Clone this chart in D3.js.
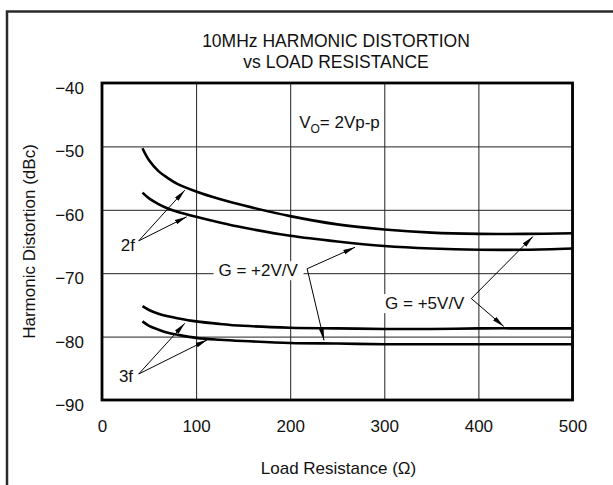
<!DOCTYPE html>
<html>
<head>
<meta charset="utf-8">
<script src="https://cdnjs.cloudflare.com/ajax/libs/d3/7.8.5/d3.min.js"></script>
<style>
  body { margin: 0; background: #fff; }
  text { font-family: "Liberation Sans", Arial, sans-serif; fill: #111; }
</style>
</head>
<body>
<div id="chart"></div>
<script>
var loadOhms = [43, 50, 60, 70, 80, 100, 125, 150, 200, 250, 300, 350, 400, 450, 500];

// harmonic distortion, dBc
var hd2Gain5 = [-50.3, -52.2, -53.9, -55.0, -55.9, -57.1, -58.3, -59.3, -61.0, -62.3, -63.1, -63.6, -63.8, -63.8, -63.7];
var hd2Gain2 = [-57.3, -58.2, -59.1, -59.8, -60.3, -61.1, -62.0, -62.8, -64.1, -65.0, -65.7, -66.1, -66.3, -66.3, -66.1];
var hd3Gain5 = [-75.2, -75.8, -76.4, -76.8, -77.1, -77.6, -78.0, -78.3, -78.6, -78.7, -78.8, -78.8, -78.7, -78.7, -78.7];
var hd3Gain2 = [-77.6, -78.3, -78.9, -79.4, -79.7, -80.2, -80.5, -80.7, -81.0, -81.1, -81.2, -81.2, -81.2, -81.2, -81.2];

var xTicks = [0, 100, 200, 300, 400, 500];
var yTicks = [-40, -50, -60, -70, -80, -90];

// callouts, in data units: label [ohms, dBc], arrow start, arrow tips
var callouts = [
  {text: "2f", at: [27.5, -65.6], from: [39, -64.9], to: [[88, -56.9], [90, -61.1]], box: false},
  {text: "3f", at: [25.5, -86.2], from: [39, -85.9], to: [[88, -77.9], [112, -80.5]], box: false},
  {text: "G = +2V/V", at: [166, -69.5], from: [218, -69.3], to: [[269, -65.9], [236, -80.6]], box: true},
  {text: "G = +5V/V", at: [343, -74.7], from: [392.5, -74.0], to: [[458, -64.2], [427, -78.4]], box: true}
];

var margin = {top: 83, right: 40.5, bottom: 85, left: 102},
    width = 613 - margin.left - margin.right,
    height = 485 - margin.top - margin.bottom;

var x = d3.scaleLinear().domain([0, 500]).range([0, width]);
var y = d3.scaleLinear().domain([-90, -40]).range([height, 0]);

var svg = d3.select("#chart").append("svg")
    .attr("width", 613)
    .attr("height", 485);

// outer frame, runs off the right and bottom edges
svg.append("rect")
    .attr("x", 7).attr("y", 11.5)
    .attr("width", 640).attr("height", 500)
    .attr("fill", "none")
    .attr("stroke", "#2a2a2a")
    .attr("stroke-width", 2.5);

svg.append("text")
    .attr("x", 336).attr("y", 46.5)
    .attr("text-anchor", "middle")
    .style("font-size", "17.5px")
    .text("10MHz HARMONIC DISTORTION");

svg.append("text")
    .attr("x", 336).attr("y", 67.5)
    .attr("text-anchor", "middle")
    .style("font-size", "17.5px")
    .text("vs LOAD RESISTANCE");

var g = svg.append("g")
    .attr("transform", "translate(" + margin.left + "," + margin.top + ")");

// grid + tick labels
var yAxis = g.append("g")
    .call(d3.axisLeft(y).tickValues(yTicks).tickSize(-width).tickPadding(18));
var xAxis = g.append("g")
    .attr("transform", "translate(0," + height + ")")
    .call(d3.axisBottom(x).tickValues(xTicks).tickSize(-height).tickPadding(19.5));

[xAxis, yAxis].forEach(function(a) {
  a.select(".domain").remove();
  a.selectAll(".tick line").attr("stroke", "#222").attr("stroke-width", 1);
  a.selectAll(".tick text")
    .style("font-size", "17px")
    .style("font-family", "'Liberation Sans', Arial, sans-serif")
    .attr("fill", "#111");
});
yAxis.selectAll(".tick text").attr("dy", 10.5);

svg.append("text")
    .attr("x", 338.5).attr("y", 474)
    .attr("text-anchor", "middle")
    .style("font-size", "17px")
    .text("Load Resistance (\u03A9)");

svg.append("text")
    .attr("transform", "translate(35," + (margin.top + height / 2) + ") rotate(-90)")
    .attr("text-anchor", "middle")
    .style("font-size", "17px")
    .text("Harmonic Distortion (dBc)");

// curves
var line = d3.line()
    .x(function(d) { return x(d[0]); })
    .y(function(d) { return y(d[1]); })
    .curve(d3.curveCatmullRom.alpha(0.5));

[hd2Gain5, hd2Gain2, hd3Gain5, hd3Gain2].forEach(function(s) {
  g.append("path")
    .datum(d3.zip(loadOhms, s))
    .attr("fill", "none")
    .attr("stroke", "#000")
    .attr("stroke-width", 2.6)
    .attr("d", line);
});

// plot frame
g.append("rect")
    .attr("width", width).attr("height", height)
    .attr("fill", "none")
    .attr("stroke", "#000")
    .attr("stroke-width", 2.8);

// arrow head
svg.append("defs").append("marker")
    .attr("id", "head")
    .attr("markerUnits", "userSpaceOnUse")
    .attr("viewBox", "0 0 12 6")
    .attr("refX", 12).attr("refY", 3)
    .attr("markerWidth", 12).attr("markerHeight", 6)
    .attr("orient", "auto")
  .append("path")
    .attr("d", "M0,0.6 L12,3 L0,5.4 Z")
    .attr("fill", "#000");

callouts.forEach(function(c) {
  var label = g.append("text")
    .attr("x", x(c.at[0])).attr("y", y(c.at[1]))
    .attr("dy", "0.36em")
    .attr("text-anchor", "middle")
    .style("font-size", "17px")
    .text(c.text);
  if (c.box) {
    var bb = label.node().getBBox();
    g.insert("rect", function() { return label.node(); })
      .attr("x", bb.x - 5).attr("y", bb.y)
      .attr("width", bb.width + 10).attr("height", bb.height)
      .attr("fill", "#fff");
  }
  c.to.forEach(function(t) {
    g.append("line")
      .attr("x1", x(c.from[0])).attr("y1", y(c.from[1]))
      .attr("x2", x(t[0])).attr("y2", y(t[1]))
      .attr("stroke", "#000")
      .attr("stroke-width", 1)
      .attr("marker-end", "url(#head)");
  });
});

// output swing note
var note = g.append("text")
    .attr("x", x(209.5)).attr("y", y(-47.1))
    .style("font-size", "17px");
note.append("tspan").text("V");
note.append("tspan").attr("dy", 5).style("font-size", "12px").text("O");
note.append("tspan").attr("dy", -5).text("= 2Vp-p");
</script>
</body>
</html>
